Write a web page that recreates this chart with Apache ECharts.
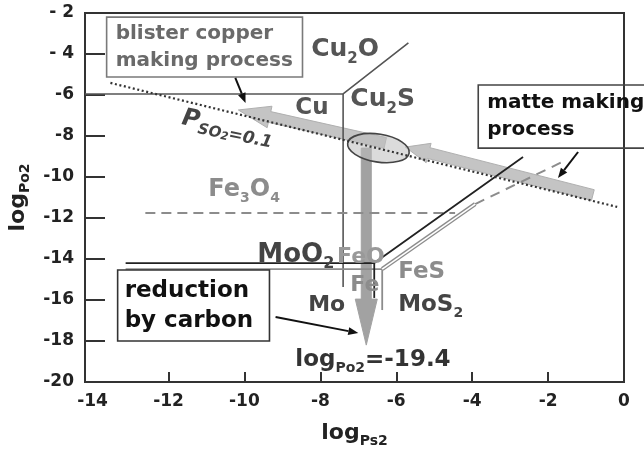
<!DOCTYPE html>
<html>
<head>
<meta charset="utf-8">
<script src="https://cdn.jsdelivr.net/npm/echarts@6/dist/echarts.min.js"></script>
<style>
html,body{margin:0;padding:0;background:#fff;}
#chart{width:644px;height:449px;}
</style>
</head>
<body>
<div id="chart"></div>
<script>
// ================= DATA (axis units: x = log Ps2, y = log Po2) =================
const xTickValues = [-14, -12, -10, -8, -6, -4, -2, 0];
const xTickMarks  = [-12, -10, -8, -6, -4, -2];
const yTickValues = [-20, -18, -16, -14, -12, -10, -8, -6, -4, -2];
const yTickLabels = ['-20', '-18', '-16', '-14', '-12', '-10', '-8', '-6', '- 4', '- 2'];

// phase boundaries
const cuOxideBoundary    = [[-14.2, -5.95], [-7.4, -5.95], [-5.68, -3.46]];
const cuSulfideBoundary  = [[-7.4, -5.95], [-7.4, -15.37]];
const so2Isobar          = [[-13.53, -5.41], [-0.18, -11.46]];
const fe3o4Boundary      = [[-12.61, -11.76], [-4.45, -11.76]];
const moBoundary         = [[-13.13, -14.2], [-6.58, -14.2], [-2.66, -9.02]];
const moSulfideBoundary  = [[-6.58, -14.2], [-6.58, -15.9]];
const feBoundary         = [[-13.13, -14.49], [-6.37, -14.49]];
const feDiagonal         = [[-6.37, -14.49], [-3.92, -11.32]];
const feDiagonalDashed   = [[-3.92, -11.32], [-1.63, -9.27]];
const feSulfideBoundary  = [[-6.37, -14.49], [-6.37, -16.49]];

// process arrows: [xTail, yTail, xTip, yTip]
const processArrows = [
  [-6.29, -8.34, -10.16, -6.73],   // toward blister copper
  [-0.82, -10.88, -5.76, -8.54],   // matte making
  [-6.79, -8.59, -6.79, -18.2]     // reduction by carbon
];
// operating point ellipse: [cx, cy, rx, ry]
const operatingPoint = [-6.47, -8.59, 0.82, 0.68];

// phase labels
const phaseNames = ['Cu{s|2}O', 'Cu{s|2}S', 'Cu', 'Fe{s|3}O{s|4}', 'MoO{s|2}', 'FeO', 'Fe', 'Mo', 'FeS', 'MoS{s|2}', 'log{s|Po2}=-19.4'];
const phaseX = [-8.24, -7.21, -8.66, -10.95, -9.66, -7.56, -7.21, -8.32, -5.95, -5.95, -8.66];
const phaseY = [-3.80, -6.24, -6.63, -10.63, -13.80, -13.92, -15.27, -16.24, -14.62, -16.24, -18.93];

const so2Text = 'P{s|SO}{ss|2}{e|=0.1}';
const so2Pos = [-11.64, -7.12];

// callouts
const calloutText = ['blister copper\nmaking process', 'matte making\nprocess', 'reduction\nby carbon'];
const calloutBox = [[-13.63, -2.20, -8.47, -5.12], [-3.84, -5.51, 0.68, -8.59], [-13.34, -14.54, -9.34, -18.0]];
const calloutArrow = [[-10.24, -5.17, -9.97, -6.39], [-1.21, -8.78, -1.74, -10.05], [-9.18, -16.83, -7.0, -17.61]];

// ================= STYLES =================
const FONT = 'DejaVu Sans';
const phaseStyle = [
  {size: 25, color: '#555'}, {size: 25, color: '#555'}, {size: 23, color: '#555'},
  {size: 24, color: '#8c8c8c'}, {size: 26, color: '#444'}, {size: 22, color: '#999'},
  {size: 22, color: '#8c8c8c'}, {size: 22, color: '#444'}, {size: 23, color: '#8c8c8c'},
  {size: 23, color: '#444'}, {size: 23, color: '#333'}
];
const arrowStyle = [
  {bw: 11, hw: 22, hl: 32, fill: '#c4c4c4', stroke: '#b0b0b0'},
  {bw: 11, hw: 20, hl: 24, fill: '#c4c4c4', stroke: '#b0b0b0'},
  {bw: 10, hw: 22, hl: 46, fill: '#a2a2a2', stroke: '#a2a2a2'}
];
const calloutStyle = [
  {size: 20, color: '#6a6a6a', border: '#7a7a7a', lh: 27, pad: 9},
  {size: 20, color: '#111', border: '#444', lh: 27, pad: 9},
  {size: 23, color: '#111', border: '#333', lh: 30, pad: 7}
];

function richSub(size, color, italic) {
  const L = Math.round(size * 1.3);
  return {
    s: {fontSize: Math.round(size * 0.6), fontWeight: 'bold', fontFamily: FONT, fill: color,
        verticalAlign: 'bottom', lineHeight: L, fontStyle: italic ? 'italic' : 'normal'}
  };
}

function arrowPoly(p0, p1, bw, hw, hl) {
  const dx = p1[0] - p0[0], dy = p1[1] - p0[1];
  const len = Math.hypot(dx, dy);
  const ux = dx / len, uy = dy / len, nx = -uy, ny = ux;
  const bx = p1[0] - ux * hl, by = p1[1] - uy * hl;
  return [
    [p0[0] + nx * bw / 2, p0[1] + ny * bw / 2],
    [bx + nx * bw / 2, by + ny * bw / 2],
    [bx + nx * hw / 2, by + ny * hw / 2],
    [p1[0], p1[1]],
    [bx - nx * hw / 2, by - ny * hw / 2],
    [bx - nx * bw / 2, by - ny * bw / 2],
    [p0[0] - nx * bw / 2, p0[1] - ny * bw / 2]
  ];
}

function lineSeries(data, color, width, type, z) {
  return {
    type: 'line', data: data, showSymbol: false, symbol: 'none', silent: true, z: z || 3,
    animation: false,
    lineStyle: {color: color, width: width, type: type || 'solid', cap: 'butt'}
  };
}

const chart = echarts.init(document.getElementById('chart'), null, {renderer: 'canvas'});

const option = {
  animation: false,
  backgroundColor: '#fff',
  grid: {left: 85, right: 20, top: 13, bottom: 67, show: true, borderColor: '#333', borderWidth: 2,
         containLabel: false, outerBoundsMode: 'none'},
  xAxis: {
    type: 'value', min: -14.2, max: 0,
    axisLine: {show: true, onZero: false, lineStyle: {color: '#333', width: 2}},
    axisTick: {show: true, inside: true, length: 10, lineStyle: {color: '#333', width: 2}, customValues: xTickMarks},
    axisLabel: {customValues: xTickValues, fontFamily: FONT, fontWeight: 'bold', fontSize: 17, color: '#222', margin: 11},
    splitLine: {show: false},
    name: 'log{s|Ps2}', nameLocation: 'middle', nameGap: 37,
    nameTextStyle: {fontFamily: FONT, fontWeight: 'bold', fontSize: 22, color: '#222', lineHeight: 29,
      rich: {s: {fontFamily: FONT, fontWeight: 'bold', fontSize: 14, color: '#222', verticalAlign: 'bottom', lineHeight: 29}}}
  },
  yAxis: {
    type: 'value', min: -20, max: -2, interval: 2,
    axisLine: {show: true, onZero: false, lineStyle: {color: '#333', width: 2}},
    axisTick: {show: true, inside: true, length: 20, lineStyle: {color: '#333', width: 2}},
    axisLabel: {fontFamily: FONT, fontWeight: 'bold', fontSize: 17, color: '#222', margin: 11,
      formatter: function (v) { const i = yTickValues.indexOf(v); return i >= 0 ? yTickLabels[i] : String(v); }},
    splitLine: {show: false},
    name: 'log{s|Po2}', nameLocation: 'middle', nameGap: 49, nameRotate: 90,
    nameTextStyle: {fontFamily: FONT, fontWeight: 'bold', fontSize: 22, color: '#222', lineHeight: 29,
      rich: {s: {fontFamily: FONT, fontWeight: 'bold', fontSize: 14, color: '#222', verticalAlign: 'bottom', lineHeight: 29}}}
  },
  series: [
    // wide gray process arrows
    {
      type: 'custom', z: 1, silent: true, clip: false,
      data: processArrows,
      renderItem: function (params, api) {
        const st = arrowStyle[params.dataIndex];
        const p0 = api.coord([api.value(0), api.value(1)]);
        const p1 = api.coord([api.value(2), api.value(3)]);
        return {type: 'polygon', shape: {points: arrowPoly(p0, p1, st.bw, st.hw, st.hl)},
                style: {fill: st.fill, stroke: st.stroke, lineWidth: 1}};
      }
    },
    // operating point ellipse
    {
      type: 'custom', z: 2, silent: true, clip: false,
      data: [operatingPoint],
      renderItem: function (params, api) {
        const c = api.coord([api.value(0), api.value(1)]);
        const s = api.size([api.value(2), api.value(3)]);
        return {type: 'ellipse', x: c[0], y: c[1], rotation: -0.16,
                shape: {cx: 0, cy: 0, rx: s[0], ry: s[1]},
                style: {fill: 'rgba(190,190,190,0.55)', stroke: '#444', lineWidth: 1.6}};
      }
    },
    lineSeries(cuOxideBoundary, '#555', 1.6),
    lineSeries(cuSulfideBoundary, '#555', 1.6),
    lineSeries(fe3o4Boundary, '#8c8c8c', 2, [10, 6]),
    lineSeries(feBoundary, '#8c8c8c', 1.8),
    lineSeries(feDiagonal, '#8c8c8c', 4.2),
    lineSeries(feDiagonal, '#ffffff', 1.6, 'solid', 3.5),
    lineSeries(feDiagonalDashed, '#8c8c8c', 2, [10, 7]),
    lineSeries(feSulfideBoundary, '#8c8c8c', 1.8),
    lineSeries(moBoundary, '#222', 1.8, 'solid', 3.6),
    lineSeries(moSulfideBoundary, '#222', 1.8, 'solid', 3.6),
    lineSeries(so2Isobar, '#333', 2.2, [2, 2.6], 4),
    // phase labels
    {
      type: 'custom', z: 5, silent: true, clip: false,
      data: phaseX.map(function (x, i) { return [x, phaseY[i]]; }),
      renderItem: function (params, api) {
        const i = params.dataIndex, st = phaseStyle[i];
        const p = api.coord([api.value(0), api.value(1)]);
        return {type: 'text', x: p[0], y: p[1],
          style: {text: phaseNames[i], fill: st.color, fontSize: st.size, fontWeight: 'bold', fontFamily: FONT,
                  align: 'left', verticalAlign: 'middle', lineHeight: Math.round(st.size * 1.3),
                  rich: richSub(st.size, st.color, false)}};
      }
    },
    // P_SO2 = 0.1 label
    {
      type: 'custom', z: 5, silent: true, clip: false,
      data: [so2Pos],
      renderItem: function (params, api) {
        const p = api.coord([api.value(0), api.value(1)]);
        const c = '#444';
        return {type: 'text', x: p[0], y: p[1], rotation: -0.2,
          style: {text: so2Text, fill: c, fontSize: 24, fontWeight: 'bold', fontStyle: 'italic', fontFamily: FONT,
                  align: 'left', verticalAlign: 'middle', lineHeight: 30,
                  rich: {
                    s: {fontSize: 15, fontWeight: 'bold', fontStyle: 'italic', fontFamily: FONT, fill: c, verticalAlign: 'bottom', lineHeight: 30},
                    ss: {fontSize: 11, fontWeight: 'bold', fontStyle: 'italic', fontFamily: FONT, fill: c, verticalAlign: 'bottom', lineHeight: 27},
                    e: {fontSize: 17, fontWeight: 'bold', fontStyle: 'italic', fontFamily: FONT, fill: c, verticalAlign: 'bottom', lineHeight: 31}
                  }}};
      }
    },
    // callout boxes with text and pointer arrows
    {
      type: 'custom', z: 6, silent: true, clip: false,
      data: calloutBox,
      renderItem: function (params, api) {
        const i = params.dataIndex, st = calloutStyle[i];
        const a = api.coord([api.value(0), api.value(1)]);
        const b = api.coord([api.value(2), api.value(3)]);
        const ar = calloutArrow[i];
        const t0 = api.coord([ar[0], ar[1]]), t1 = api.coord([ar[2], ar[3]]);
        const dx = t1[0] - t0[0], dy = t1[1] - t0[1], len = Math.hypot(dx, dy);
        const ux = dx / len, uy = dy / len, hl = 10, hw = 4;
        const bx = t1[0] - ux * hl, by = t1[1] - uy * hl;
        return {type: 'group', children: [
          {type: 'rect', shape: {x: a[0], y: a[1], width: b[0] - a[0], height: b[1] - a[1]},
           style: {fill: 'none', stroke: st.border, lineWidth: 1.6}},
          {type: 'text', x: a[0] + st.pad, y: (a[1] + b[1]) / 2,
           style: {text: calloutText[i], fill: st.color, fontSize: st.size, fontWeight: 'bold', fontFamily: FONT,
                   align: 'left', verticalAlign: 'middle', lineHeight: st.lh}},
          {type: 'line', shape: {x1: t0[0], y1: t0[1], x2: bx, y2: by},
           style: {stroke: '#111', lineWidth: 2}},
          {type: 'polygon', shape: {points: [[t1[0], t1[1]], [bx - uy * hw, by + ux * hw], [bx + uy * hw, by - ux * hw]]},
           style: {fill: '#111'}}
        ]};
      }
    }
  ]
};

chart.setOption(option);
</script>
</body>
</html>
